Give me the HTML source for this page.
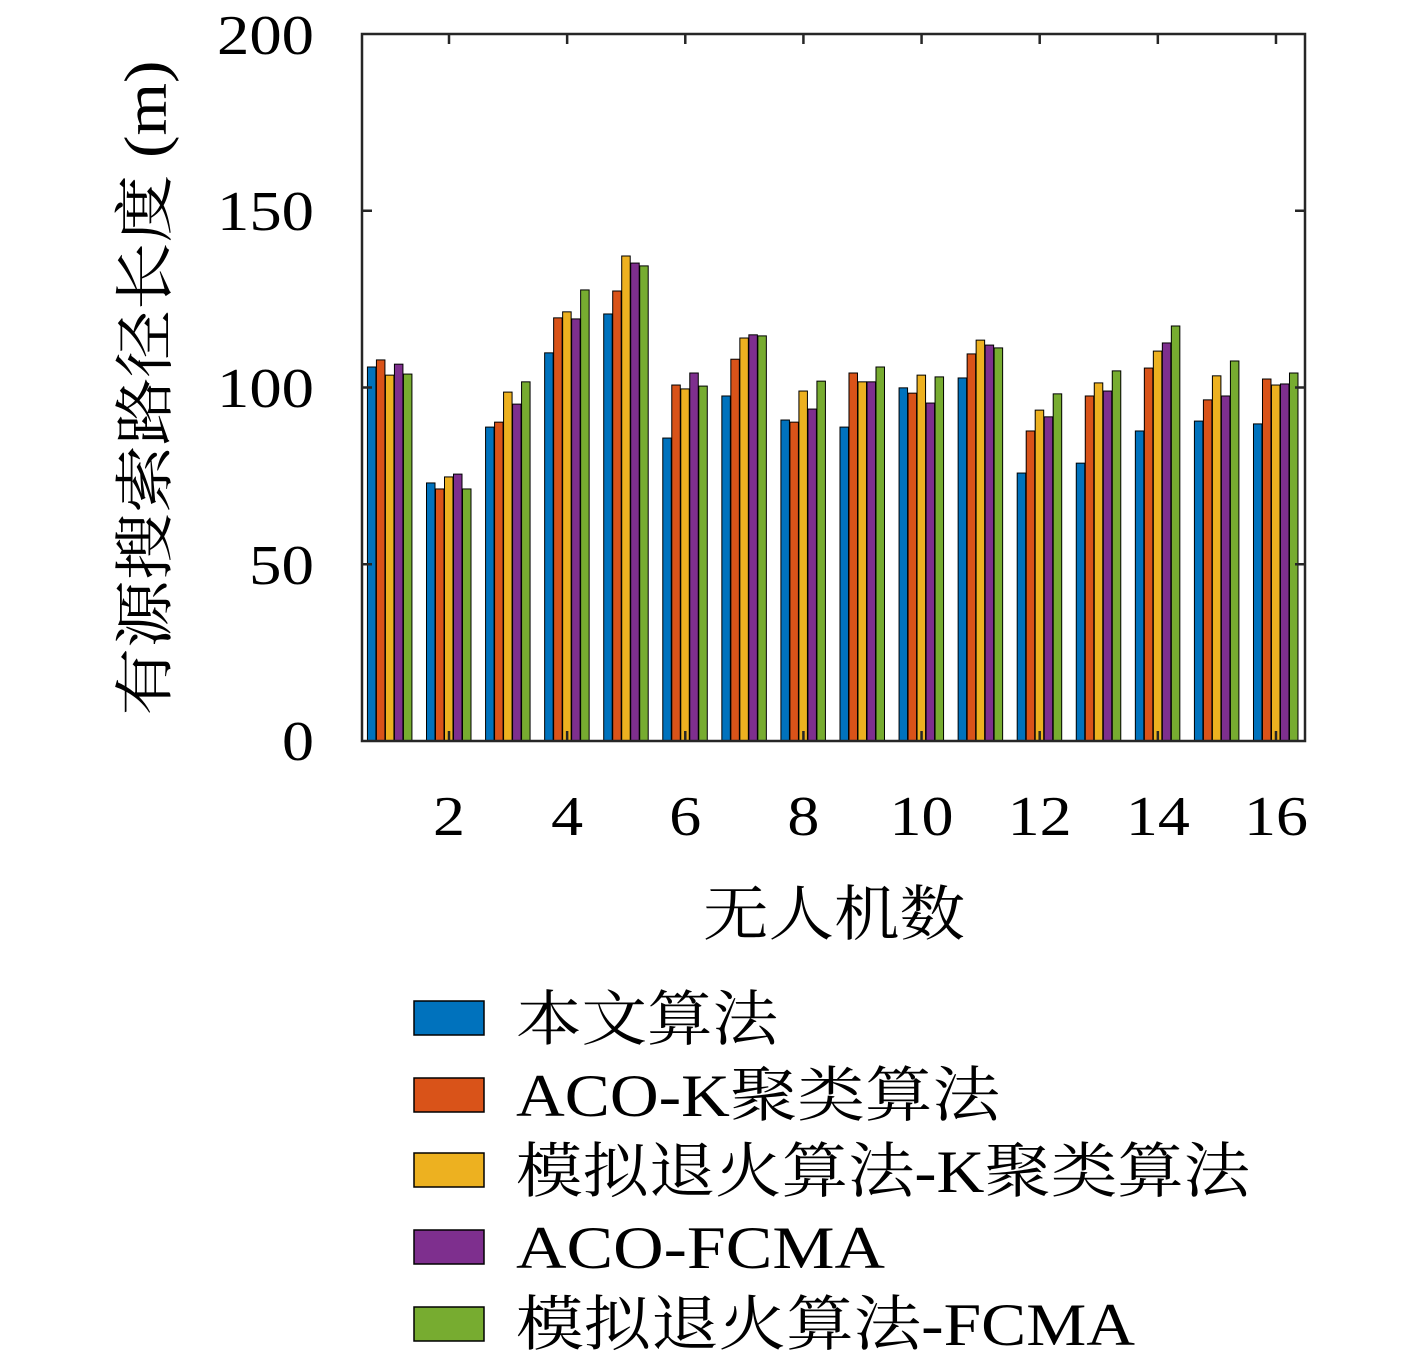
<!DOCTYPE html>
<html><head><meta charset="utf-8"><style>
html,body{margin:0;padding:0;background:#fff;}
svg text{font-family:"Liberation Serif","Noto Serif CJK SC","Noto Sans CJK SC",serif;fill:#000;}
</style></head><body>
<svg id="s" width="1417" height="1358" viewBox="0 0 1417 1358" xmlns="http://www.w3.org/2000/svg">
<g id="bars"></g>
<rect x="362" y="34" width="943" height="707" fill="none" stroke="#262626" stroke-width="2.5"/>
<g id="ticks" stroke="#262626" stroke-width="2.5"></g>
<g font-size="56" text-anchor="end">
<text x="314" y="760" textLength="32" lengthAdjust="spacingAndGlyphs">0</text><text x="314" y="584" textLength="65" lengthAdjust="spacingAndGlyphs">50</text><text x="314" y="407" textLength="97" lengthAdjust="spacingAndGlyphs">100</text><text x="314" y="230" textLength="97" lengthAdjust="spacingAndGlyphs">150</text><text x="314" y="54" textLength="97" lengthAdjust="spacingAndGlyphs">200</text>
</g>
<g font-size="56" text-anchor="middle" id="xl"></g>
<text x="834" y="935" font-size="60" text-anchor="middle" textLength="262" lengthAdjust="spacingAndGlyphs">无人机数</text>
<text transform="translate(166,388) rotate(-90)" font-size="60" text-anchor="middle" textLength="655" lengthAdjust="spacingAndGlyphs">有源搜索路径长度 (m)</text>
<g font-size="60">
<rect x="414" y="1001" width="70" height="34" fill="#0072BD" stroke="#000" stroke-width="1.5"/><text x="516" y="1040" textLength="262" lengthAdjust="spacingAndGlyphs">本文算法</text>
<rect x="414" y="1078" width="70" height="34" fill="#D95319" stroke="#000" stroke-width="1.5"/><text x="516" y="1116" textLength="484" lengthAdjust="spacingAndGlyphs">ACO-K聚类算法</text>
<rect x="414" y="1153" width="70" height="34" fill="#EDB120" stroke="#000" stroke-width="1.5"/><text x="516" y="1192" textLength="734" lengthAdjust="spacingAndGlyphs">模拟退火算法-K聚类算法</text>
<rect x="414" y="1230" width="70" height="34" fill="#7E2F8E" stroke="#000" stroke-width="1.5"/><text x="516" y="1268" textLength="369" lengthAdjust="spacingAndGlyphs">ACO-FCMA</text>
<rect x="414" y="1307" width="70" height="34" fill="#77AC30" stroke="#000" stroke-width="1.5"/><text x="516" y="1345" textLength="619" lengthAdjust="spacingAndGlyphs">模拟退火算法-FCMA</text>
</g>
</svg>
<script>
var d=[[105.8,107.8,103.5,106.6,103.8],[73,71.3,74.7,75.5,71.3],[88.8,90.2,98.7,95.3,101.6],[109.8,119.7,121.4,119.4,127.6],[120.8,127.3,137.2,135.2,134.4],[85.7,100.7,99.6,104.1,100.4],[97.6,108,114,114.9,114.6],[90.8,90.2,99,93.9,101.8],[88.8,104.1,101.6,101.6,105.8],[99.9,98.4,103.5,95.6,103],[102.7,109.5,113.4,112,111.2],[75.8,87.7,93.6,91.7,98.2],[78.6,97.6,101.3,99,104.7],[87.7,105.5,110.3,112.6,117.4],[90.5,96.5,103.3,97.6,107.5],[89.7,102.4,100.7,101,104.1]];
var c=["#0072BD","#D95319","#EDB120","#7E2F8E","#77AC30"];
var b=document.getElementById("bars"),t=document.getElementById("ticks"),xl=document.getElementById("xl");
function X(g){return 449+(g-2)*59.07;}
function Y(v){return 741-v*3.535;}
var h="";
for(var g=0;g<16;g++){var cx=X(g+1);for(var k=0;k<5;k++){var x=cx-22.5+k*9;h+='<rect x="'+x+'" y="'+Y(d[g][k])+'" width="8.5" height="'+(d[g][k]*3.535)+'" fill="'+c[k]+'" stroke="#000" stroke-width="1"/>';}}
b.innerHTML=h;
var s="",xs="";
for(var g=2;g<=16;g+=2){var x=X(g);s+='<line x1="'+x+'" y1="741" x2="'+x+'" y2="731"/><line x1="'+x+'" y1="34" x2="'+x+'" y2="44"/>';xs+='<text x="'+x+'" y="835" textLength="'+(g<10?32:64)+'" lengthAdjust="spacingAndGlyphs">'+g+'</text>';}
xl.innerHTML=xs;
for(var v=50;v<200;v+=50){var y=Y(v);s+='<line x1="362" y1="'+y+'" x2="372" y2="'+y+'"/><line x1="1305" y1="'+y+'" x2="1295" y2="'+y+'"/>';}
t.innerHTML=s;
</script>
</body></html>
